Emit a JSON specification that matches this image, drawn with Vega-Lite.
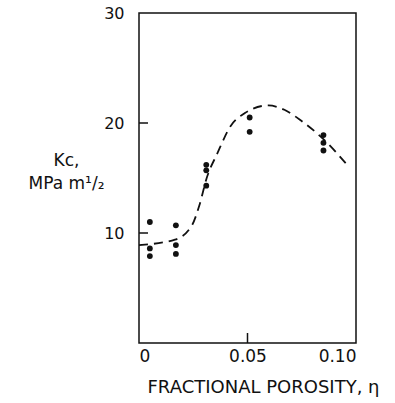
{
  "$schema": "https://vega.github.io/schema/vega-lite/v6.json",
  "width": 217,
  "height": 330,
  "autosize": {"type": "none"},
  "padding": {"left": 139, "top": 13, "right": 39, "bottom": 60},
  "background": "white",
  "config": {
    "view": {"stroke": "#111", "strokeWidth": 1.5},
    "font": "DejaVu Sans",
    "axis": {
      "domain": false,
      "grid": false,
      "ticks": false,
      "labelFont": "DejaVu Sans",
      "labelColor": "#111",
      "labelFontSize": 16,
      "titleFont": "DejaVu Sans",
      "titleColor": "#111",
      "titleFontWeight": "normal"
    }
  },
  "datasets": {
    "points": [
      {"porosity": 0.005, "kc": 11.0},
      {"porosity": 0.005, "kc": 8.6},
      {"porosity": 0.005, "kc": 7.9},
      {"porosity": 0.017, "kc": 10.7},
      {"porosity": 0.017, "kc": 8.9},
      {"porosity": 0.017, "kc": 8.1},
      {"porosity": 0.031, "kc": 16.2},
      {"porosity": 0.031, "kc": 15.7},
      {"porosity": 0.031, "kc": 14.3},
      {"porosity": 0.051, "kc": 20.5},
      {"porosity": 0.051, "kc": 19.2},
      {"porosity": 0.085, "kc": 18.9},
      {"porosity": 0.085, "kc": 18.2},
      {"porosity": 0.085, "kc": 17.5}
    ],
    "curve": [
      {"porosity": 0.0, "kc": 8.9},
      {"porosity": 0.0166, "kc": 9.4},
      {"porosity": 0.0244, "kc": 10.7},
      {"porosity": 0.0278, "kc": 12.5},
      {"porosity": 0.0312, "kc": 15.0},
      {"porosity": 0.036, "kc": 17.2},
      {"porosity": 0.0425, "kc": 19.8},
      {"porosity": 0.0488, "kc": 20.9},
      {"porosity": 0.0596, "kc": 21.6},
      {"porosity": 0.067, "kc": 21.2},
      {"porosity": 0.0748, "kc": 20.2},
      {"porosity": 0.0846, "kc": 18.6},
      {"porosity": 0.0959, "kc": 16.2}
    ],
    "xticks": [{"porosity": 0.05}],
    "yticks": [{"kc": 10}, {"kc": 20}]
  },
  "layer": [
    {
      "data": {"name": "curve"},
      "mark": {"type": "line", "interpolate": "monotone", "color": "#111", "strokeWidth": 1.8, "strokeDash": [9, 6]},
      "encoding": {
        "x": {
          "field": "porosity",
          "type": "quantitative",
          "scale": {"domain": [0, 0.1], "nice": false},
          "axis": {
            "values": [0, 0.05, 0.1],
            "labelExpr": "datum.value == 0 ? '0' : format(datum.value, '.2f')",
            "labelPadding": 5,
            "labelFontSize": 17,
            "title": "FRACTIONAL POROSITY, η",
            "titleFontSize": 18,
            "titleX": 124,
            "titleY": 44,
            "titleBaseline": "middle",
            "titleAlign": "center"
          }
        },
        "y": {
          "field": "kc",
          "type": "quantitative",
          "scale": {"domain": [0, 30], "nice": false},
          "axis": {
            "values": [10, 20, 30],
            "labelPadding": 15,
            "title": ["Kc,", "MPa m¹/₂"],
            "titleAngle": 0,
            "titleFontSize": 17,
            "titleAlign": "center",
            "titleBaseline": "middle",
            "titleX": -73,
            "titleY": 147,
            "titleLineHeight": 23
          }
        }
      }
    },
    {
      "data": {"name": "points"},
      "mark": {"type": "circle", "color": "#111", "opacity": 1, "size": 34},
      "encoding": {
        "x": {"field": "porosity", "type": "quantitative"},
        "y": {"field": "kc", "type": "quantitative"}
      }
    },
    {
      "data": {"name": "xticks"},
      "mark": {"type": "rule", "color": "#111", "strokeWidth": 1.5, "y2Offset": -10},
      "encoding": {
        "x": {"field": "porosity", "type": "quantitative"},
        "y": {"datum": 0},
        "y2": {"datum": 0}
      }
    },
    {
      "data": {"name": "yticks"},
      "mark": {"type": "rule", "color": "#111", "strokeWidth": 1.5, "x2Offset": 9},
      "encoding": {
        "y": {"field": "kc", "type": "quantitative"},
        "x": {"datum": 0},
        "x2": {"datum": 0}
      }
    }
  ]
}
